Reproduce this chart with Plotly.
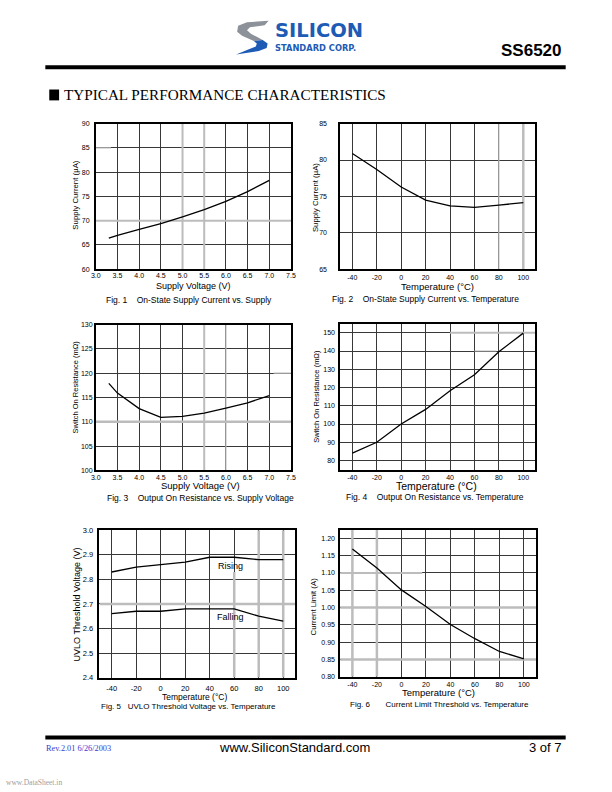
import plotly.graph_objects as go

W, H = 612, 792

# ---------------- data ----------------
volt_ticks = [3.0, 3.5, 4.0, 4.5, 5.0, 5.5, 6.0, 6.5, 7.0, 7.5]
volt_labels = ["3.0", "3.5", "4.0", "4.5", "5.0", "5.5", "6.0", "6.5", "7.0", "7.5"]
temp_ticks = [-40, -20, 0, 20, 40, 60, 80, 100]
temp_labels = ["-40", "-20", "0", "20", "40", "60", "80", "100"]

# Fig 1: On-state supply current vs supply voltage
f1_v = [3.3, 3.5, 4.0, 4.5, 5.0, 5.5, 6.0, 6.5, 7.0]
f1_i = [66.4, 67.0, 68.2, 69.4, 70.8, 72.3, 74.0, 76.0, 78.3]
# Fig 2: On-state supply current vs temperature
f2_t = [-40, -20, 0, 20, 40, 60, 80, 100]
f2_i = [80.9, 78.7, 76.3, 74.5, 73.7, 73.5, 73.8, 74.15]
# Fig 3: Output on resistance vs supply voltage
f3_v = [3.3, 3.5, 4.0, 4.5, 5.0, 5.5, 6.0, 6.5, 7.0]
f3_r = [117.9, 115.9, 112.7, 110.9, 111.1, 111.8, 112.8, 113.9, 115.4]
# Fig 4: Output on resistance vs temperature
f4_t = [-40, -20, 0, 20, 40, 60, 80, 100]
f4_r = [84.0, 90.0, 100.0, 108.0, 118.2, 127.0, 139.6, 149.8]
# Fig 5: UVLO threshold voltage vs temperature
f5_t = [-40, -20, 0, 20, 40, 60, 80, 100]
f5_rise = [2.83, 2.85, 2.86, 2.87, 2.89, 2.89, 2.88, 2.88]
f5_fall = [2.66, 2.67, 2.67, 2.68, 2.68, 2.68, 2.65, 2.63]
# Fig 6: Current limit threshold vs temperature
f6_t = [-40, -20, 0, 20, 40, 60, 80, 100]
f6_lim = [1.169, 1.114, 1.051, 1.003, 0.951, 0.910, 0.873, 0.852]

# ---------------- helpers ----------------
def px(x):
    return x / W

def py(y):
    return 1 - y / H

SANS = "Liberation Sans, Arial, sans-serif"
SERIF = "Liberation Serif, Times New Roman, serif"

annotations = []
shapes = []

def ann(x, y, text, size, xanchor="center", yanchor="middle", family=SANS,
        color="black", angle=0, align="center"):
    annotations.append(dict(
        x=px(x), y=py(y), xref="paper", yref="paper", text=text,
        showarrow=False, xanchor=xanchor, yanchor=yanchor, textangle=angle,
        borderpad=0, align=align,
        font=dict(family=family, size=size, color=color)))

def rect(x0, y0, x1, y1, color):
    shapes.append(dict(type="rect", xref="paper", yref="paper",
                       x0=px(x0), x1=px(x1), y0=py(y1), y1=py(y0),
                       fillcolor=color, line=dict(width=0), layer="above"))

def path(points, color):
    d = "M " + " L ".join(f"{px(a):.5f},{py(b):.5f}" for a, b in points) + " Z"
    shapes.append(dict(type="path", xref="paper", yref="paper", path=d,
                       fillcolor=color, line=dict(width=0), layer="above"))

fig = go.Figure()

# panel definitions: box in page pixels (left, top, right, bottom)
panels = [
    dict(box=(92.3, 121, 290.7, 268.3), xr=[3.0, 7.5], yr=[60, 90],
         xt=volt_ticks, xl=volt_labels, yt=[60, 65, 70, 75, 80, 85, 90],
         yfmt="d", ylen=3, xlen=0, xshift=-1, tsize=7),
    dict(box=(340.7, 121, 539.3, 268.3), xr=[-50, 110], yr=[65, 85],
         xt=temp_ticks, xl=temp_labels, yt=[65, 70, 75, 80, 85],
         yfmt="d", ylen=10, xlen=0, xshift=1, tsize=7),
    dict(box=(92.3, 324.3, 290.7, 471.7), xr=[3.0, 7.5], yr=[100, 130],
         xt=volt_ticks, xl=volt_labels, yt=[100, 105, 110, 115, 120, 125, 130],
         yfmt="d", ylen=0, xlen=0, xshift=0, tsize=7),
    dict(box=(340.7, 323.3, 539.3, 471.0), xr=[-50, 110], yr=[75, 155],
         xt=temp_ticks, xl=temp_labels, yt=[80, 90, 100, 110, 120, 130, 140, 150],
         yfmt="d", ylen=2, xlen=0, xshift=0, tsize=7),
    dict(box=(96, 532.3, 295.3, 681.3), xr=[-50, 110], yr=[2.4, 3.0],
         xt=temp_ticks, xl=temp_labels, yt=[2.4, 2.5, 2.6, 2.7, 2.8, 2.9, 3.0],
         yfmt=".1f", ylen=3, xlen=3, xshift=0, tsize=7.5),
    dict(box=(340.7, 531.7, 540, 680.5), xr=[-50, 110], yr=[0.8, 1.225],
         xt=temp_ticks, xl=temp_labels,
         yt=[0.80, 0.85, 0.90, 0.95, 1.00, 1.05, 1.10, 1.15, 1.20],
         yfmt=".2f", ylen=2, xlen=0, xshift=0, tsize=7),
]

series = [
    [(f1_v, f1_i)],
    [(f2_t, f2_i)],
    [(f3_v, f3_r)],
    [(f4_t, f4_r)],
    [(f5_t, f5_rise), (f5_t, f5_fall)],
    [(f6_t, f6_lim)],
]

layout_axes = {}
for k, (p, ser) in enumerate(zip(panels, series), start=1):
    xa = "x" if k == 1 else f"x{k}"
    ya = "y" if k == 1 else f"y{k}"
    for xs, ys in ser:
        fig.add_trace(go.Scatter(x=xs, y=ys, xaxis=xa, yaxis=ya, mode="lines",
                                 line=dict(color="black", width=1.3),
                                 showlegend=False, hoverinfo="skip"))
    l, t, r, b = p["box"]
    xname = "xaxis" if k == 1 else f"xaxis{k}"
    yname = "yaxis" if k == 1 else f"yaxis{k}"
    xax = dict(
        domain=[px(l), px(r)], range=p["xr"], anchor=ya,
        tickmode="array", tickvals=p["xt"], ticktext=p["xl"],
        showgrid=True, gridcolor="#383838", gridwidth=1, zeroline=False,
        showline=True, mirror=True, linecolor="black", linewidth=1.5,
        ticklabelstandoff=p["xshift"],
        tickfont=dict(family=SANS, size=p["tsize"], color="black"))
    if p["xlen"] > 0:
        xax.update(ticks="outside", ticklen=p["xlen"], tickcolor="rgba(0,0,0,0)")
    else:
        xax.update(ticks="")
    layout_axes[xname] = xax
    yax = dict(
        domain=[py(b), py(t)], range=p["yr"], anchor=xa,
        tickmode="array", tickvals=p["yt"],
        ticktext=[format(v, p["yfmt"]) for v in p["yt"]],
        showgrid=True, gridcolor="#383838", gridwidth=1, zeroline=False,
        showline=True, mirror=True, linecolor="black", linewidth=1.5,
        tickfont=dict(family=SANS, size=p["tsize"], color="black"))
    if p["ylen"] > 0:
        yax.update(ticks="outside", ticklen=p["ylen"], tickcolor="rgba(0,0,0,0)")
    else:
        yax.update(ticks="")
    layout_axes[yname] = yax

# faded (light grey) grid segments as seen in the scanned sheet
LG = "#bcbcbc"
def gline(k, x0, y0, x1, y1, w=1.5, color=LG):
    xr = "x" if k == 1 else f"x{k}"
    yr = "y" if k == 1 else f"y{k}"
    shapes.append(dict(type="line", xref=xr, yref=yr, x0=x0, y0=y0, x1=x1, y1=y1,
                       line=dict(color=color, width=w), layer="between"))

gline(1, 5.0, 60, 5.0, 90, 2)
gline(1, 5.5, 60, 5.5, 90, 2)
gline(1, 3.0, 70, 7.5, 70, 2)
gline(1, 3.0, 85, 3.35, 85, 1.2)
gline(2, 80, 65, 80, 85, 1.2)
gline(2, 100, 65, 100, 85, 2.5)
gline(3, 3.0, 110, 7.5, 110, 2.5)
gline(3, 5.5, 100, 5.5, 130, 2)
gline(3, 6.0, 100, 6.0, 130, 1.2)
gline(3, 7.1, 120, 7.5, 120, 1.2)
gline(4, 40, 150, 110, 150, 2)
gline(4, 60, 140, 78, 140, 1.2)
gline(5, -50, 2.7, 110, 2.7, 2.5)
gline(5, 60, 2.4, 60, 2.83, 2.5)
gline(5, 80, 2.4, 80, 3.0, 2.5)
gline(5, 100, 2.4, 100, 3.0, 2.5)
gline(6, -40, 0.8, -40, 1.225, 2.5)
gline(6, -20, 0.8, -20, 1.225, 2.5)
gline(6, -50, 1.10, 17, 1.10, 2)
gline(6, -50, 1.00, 110, 1.00, 2.5)
gline(6, -50, 0.85, 110, 0.85, 2.5)

# ---------------- axis titles & captions ----------------
ann(191.5, 285.5, "Supply Voltage (V)", 9)
ann(186.7, 299.5, "Fig. 1\u00a0\u00a0\u00a0\u00a0On-State Supply Current vs. Supply", 8.5)
ann(72, 193, "Supply Current (\u00b5A)", 7.8, angle=-90)

ann(440, 286, "Temperature (\u00b0C)", 9.5)
ann(427.5, 298.5, "Fig. 2\u00a0\u00a0\u00a0\u00a0On-State Supply Current vs. Temperature", 8.5)
ann(315.5, 196, "Supply Current (\u00b5A)", 7.8, angle=-90)

ann(199, 487.5, "Supply Voltage (V)", 9.5)
ann(199, 499.5, "Fig. 3\u00a0\u00a0\u00a0\u00a0Output On Resistance vs. Supply Voltage", 8.5)
ann(72, 387, "Switch On Resistance (m\u03a9)", 7.5, angle=-90)

ann(439, 487.5, "Temperature (\u00b0C)", 10.5)
ann(437, 499, "Fig. 4\u00a0\u00a0\u00a0\u00a0Output On Resistance vs. Temperature", 8.5)
ann(316.5, 397, "Switch On Resistance (m\u03a9)", 7.5, angle=-90)

ann(193, 700.5, "Temperature (\u00b0C)", 8.5)
ann(186.5, 710.5, "Fig. 5\u00a0\u00a0\u00a0UVLO Threshold Voltage vs. Temperature", 8)
ann(73.5, 607, "UVLO Threshold Voltage (V)", 9, angle=-90)
ann(229, 568, "Rising", 9)
ann(229, 620, "Falling", 9)

ann(441, 696.5, "Temperature (\u00b0C)", 9.5)
ann(442, 708.5, "Fig. 6\u00a0\u00a0\u00a0\u00a0\u00a0\u00a0\u00a0Current Limit Threshold vs. Temperature", 8)
ann(313.5, 609, "Current Limit (A)", 7.8, angle=-90)

# ---------------- page header ----------------
# logo swoosh
path([(268, 17), (246, 18.5), (237, 22), (236, 28), (241, 32), (253, 37.5),
      (262, 36.5), (250, 30), (246, 26.5), (249, 23.5), (264, 21.5)], "#8d9199")
path([(253, 37.5), (262, 36.5), (267, 40), (266, 44.5), (258, 47.5),
      (235, 51), (246, 46.5), (255, 43), (256, 40)], "#1d5bb5")
# logo wordmark
ann(273, 27.0, "<b>SILICON</b>", 19.5, xanchor="left",
    family="DejaVu Sans, sans-serif", color="#1d5bb5")
ann(273.5, 44.0, "<b>STANDARD CORP.</b>", 8.3, xanchor="left",
    family="DejaVu Sans, sans-serif", color="#1d5bb5")
ann(567, 47.5, "<b>SS6520</b>", 17, xanchor="right")
rect(41, 62, 570, 66, "black")

rect(45, 86.5, 55, 97.5, "black")
ann(59, 92, "TYPICAL PERFORMANCE CHARACTERISTICS", 15.2, xanchor="left",
    family=SERIF)

# ---------------- footer ----------------
rect(41, 740, 570, 744, "black")
ann(41, 753, "Rev.2.01 6/26/2003", 8.3, xanchor="left", family=SERIF, color="#3a3ad0")
ann(294, 752, "www.SiliconStandard.com", 13)
ann(567, 752, "3 of 7", 13, xanchor="right")
ann(0, 787, "www.DataSheet.in", 7.5, xanchor="left", family=SERIF, color="#a0a0a0")

fig.update_layout(
    width=W, height=H, margin=dict(l=0, r=0, t=0, b=0),
    paper_bgcolor="white", plot_bgcolor="white",
    showlegend=False, annotations=annotations, shapes=shapes,
    **layout_axes)

fig.write_html("out.html")
